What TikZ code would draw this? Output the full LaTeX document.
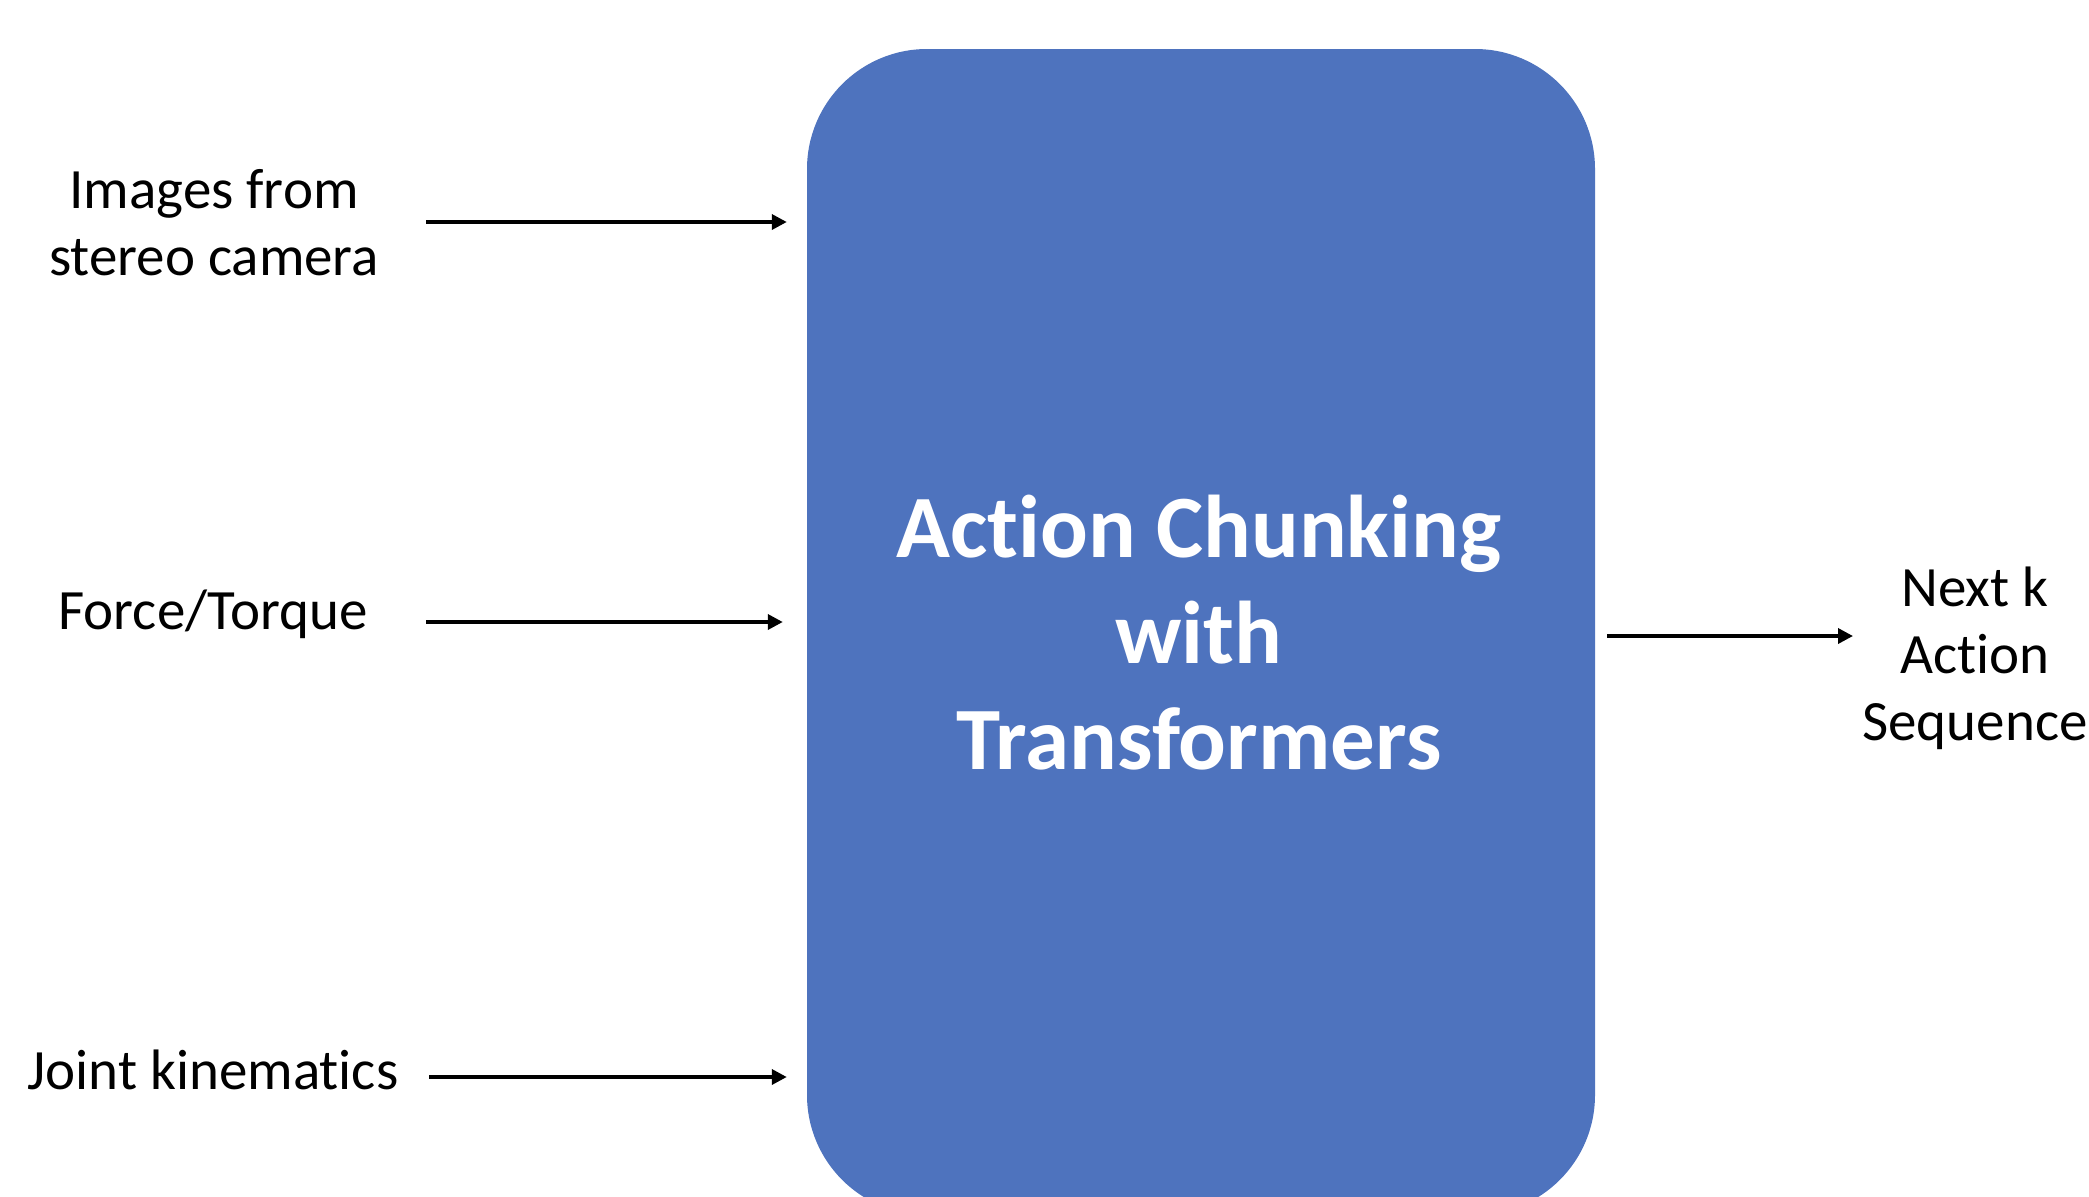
\documentclass[tikz,border=0pt]{standalone}
\usepackage{fontspec}
\setmainfont{Carlito}[RawFeature={-liga}]
\usetikzlibrary{arrows.meta}
\definecolor{boxblue}{HTML}{4E73BE}
\tikzset{
  lbl/.style={font=\fontsize{57}{67}\selectfont, align=center, inner sep=0pt, text=black},
  arr/.style={line width=3.5pt, -{Triangle[length=15pt,width=15pt]}},
  mainbox/.style={fill=boxblue, draw=none, rounded corners=120pt, minimum width=788pt, minimum height=1166pt, inner sep=0pt},
  titletext/.style={text=white, align=center, font=\bfseries\fontsize{89}{106}\selectfont, inner sep=0pt}
}
\begin{document}
\begin{tikzpicture}[x=1pt,y=-1pt]
\useasboundingbox (0,0) rectangle (2089,1197);
\node[mainbox] (box) at (1201,632) {};
\node[titletext] (title) at (1199,633) {Action Chunking\\with\\Transformers};
\node[lbl] (imgs) at (214,223) {Images from\\stereo camera};
\node[lbl] (force) at (213,614) {Force/Torque};
\node[lbl] (joint) at (213,1070) {Joint kinematics};
\node[lbl] (next) at (1975,658) {Next k\\Action\\Sequence};
\coordinate (s1) at (426,222);
\coordinate (s2) at (426,622);
\coordinate (s3) at (429,1077);
\coordinate (e1) at (1853,636);
\draw[arr, shorten >=20pt] (s1) -- (s1 -| box.west);
\draw[arr, shorten >=24pt] (s2) -- (s2 -| box.west);
\draw[arr, shorten >=20pt] (s3) -- (s3 -| box.west);
\draw[arr, shorten <=12pt] (e1 -| box.east) -- (e1);
\end{tikzpicture}
\end{document}
